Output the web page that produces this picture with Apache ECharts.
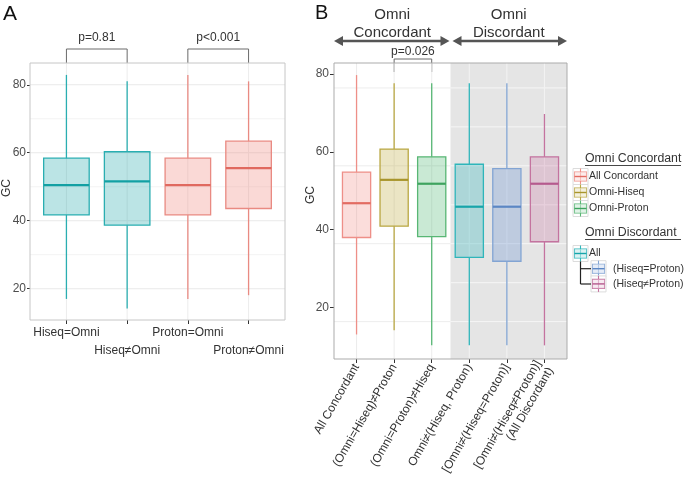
<!DOCTYPE html>
<html><head><meta charset="utf-8">
<script src="https://cdn.jsdelivr.net/npm/echarts@6/dist/echarts.min.js"></script>
<style>html,body{margin:0;padding:0;background:#fff}#c{width:685px;height:482px}</style>
</head><body><div id="c"></div>
<script>
// ---------- Panel A data ----------
const catsA = ['Hiseq=Omni', 'Hiseq≠Omni', 'Proton=Omni', 'Proton≠Omni'];
const lowA  = [17.0, 14.2, 17.0, 18.1];
const q1A   = [41.7, 38.7, 41.7, 43.6];
const medA  = [50.5, 51.6, 50.5, 55.5];
const q3A   = [58.4, 60.3, 58.4, 63.4];
const highA = [82.9, 81.0, 82.9, 81.0];
const ticksA = [20, 40, 60, 80];
const minorA = [30, 50, 70];
const bracketsA = [{from: 1, to: 2, label: 'p=0.81'}, {from: 3, to: 4, label: 'p<0.001'}];

// ---------- Panel B data ----------
const catsB = ['All Concordant', '(Omni=Hiseq)≠Proton', '(Omni=Proton)≠Hiseq',
  'Omni≠(Hiseq, Proton)', '[Omni≠(Hiseq=Proton)]', '[Omni≠(Hiseq≠Proton)]\n(All Discordant)'];
const lowB  = [13.1, 14.2, 10.3, 10.3, 10.3, 10.3];
const q1B   = [38.0, 40.9, 38.2, 32.9, 31.9, 36.9];
const medB  = [46.8, 52.8, 51.8, 45.9, 45.9, 51.8];
const q3B   = [54.8, 60.7, 58.7, 56.8, 55.7, 58.7];
const highB = [79.7, 77.6, 77.6, 77.6, 77.6, 69.7];
const ticksB = [20, 40, 60, 80];
const nConcordant = 3;
const gridWhiteB = [76.4, 56.4, 36.4, 16.4];
const gridGrayB = [76.4, 66.4, 56.4, 46.4, 36.4, 26.4, 16.4];
const bracketsB = [{from: 2, to: 3, label: 'p=0.026'}];
const legendConc = ['All Concordant', 'Omni-Hiseq', 'Omni-Proton'];
const legendDisc = ['All', '(Hiseq=Proton)', '(Hiseq≠Proton)'];

// ---------- styles ----------
const FONT = '"Liberation Sans", Arial, Helvetica, sans-serif';
const teal = {line: '#2aaeb1', fill: 'rgba(30,165,168,0.30)', med: '#12a0a3'};
const salmon = {line: '#e98a82', fill: 'rgba(238,130,120,0.30)', med: '#e0695f'};
const stylesA = [teal, teal, salmon, salmon];
const stylesB = [
  {line: '#ee8f88', fill: 'rgba(240,125,115,0.26)', med: '#e26c62'},
  {line: '#b9a742', fill: 'rgba(190,170,60,0.30)', med: '#a8952c'},
  {line: '#58b674', fill: 'rgba(60,175,100,0.28)', med: '#3fa35f'},
  {line: '#2fb5ba', fill: 'rgba(40,180,185,0.30)', med: '#17a5aa'},
  {line: '#82a4d3', fill: 'rgba(110,150,210,0.32)', med: '#5c87c4'},
  {line: '#c4739f', fill: 'rgba(200,110,160,0.26)', med: '#b55a8e'}
];

const xRangeA = [0.4, catsA.length + 0.6], yRangeA = [10.8, 86.4];
const xRangeB = [0.4, catsB.length + 0.6], yRangeB = [6.8, 82.8];

const boxData = (lo, q1, md, q3, hi) => lo.map((_, i) => [i + 1, lo[i], q1[i], md[i], q3[i], hi[i]]);

function boxRender(styles) {
  return function (params, api) {
    const x = api.value(0);
    const lo = api.coord([x, api.value(1)]);
    const q1 = api.coord([x, api.value(2)]);
    const md = api.coord([x, api.value(3)]);
    const q3 = api.coord([x, api.value(4)]);
    const hi = api.coord([x, api.value(5)]);
    const w = api.size([0.75, 0])[0];
    const s = styles[params.dataIndex];
    return {type: 'group', children: [
      {type: 'line', shape: {x1: lo[0], y1: q1[1], x2: lo[0], y2: lo[1]}, style: {stroke: s.line, lineWidth: 1.3}},
      {type: 'line', shape: {x1: hi[0], y1: q3[1], x2: hi[0], y2: hi[1]}, style: {stroke: s.line, lineWidth: 1.3}},
      {type: 'rect', shape: {x: q3[0] - w / 2, y: q3[1], width: w, height: q1[1] - q3[1]}, style: {fill: s.fill, stroke: s.line, lineWidth: 1.3}},
      {type: 'line', shape: {x1: md[0] - w / 2, y1: md[1], x2: md[0] + w / 2, y2: md[1]}, style: {stroke: s.med, lineWidth: 2.2}}
    ]};
  };
}
function hlineSeries(gi, data, color, z) {
  return {type: 'custom', xAxisIndex: gi, yAxisIndex: gi, silent: true, z: z, encode: {x: [0, 1], y: 2},
    data: data,
    renderItem: (p, api) => {
      const a = api.coord([api.value(0), api.value(2)]);
      const b = api.coord([api.value(1), api.value(2)]);
      return {type: 'line', shape: {x1: a[0], y1: a[1], x2: b[0], y2: b[1]}, style: {stroke: color, lineWidth: 1}};
    }};
}
function vlineSeries(gi, data, color, z) {
  return {type: 'custom', xAxisIndex: gi, yAxisIndex: gi, silent: true, z: z, encode: {x: 0, y: [1, 2]},
    data: data,
    renderItem: (p, api) => {
      const a = api.coord([api.value(0), api.value(1)]);
      const b = api.coord([api.value(0), api.value(2)]);
      return {type: 'line', shape: {x1: a[0], y1: a[1], x2: b[0], y2: b[1]}, style: {stroke: color, lineWidth: 1}};
    }};
}
function rectSeries(gi, data, style, z) {
  return {type: 'custom', xAxisIndex: gi, yAxisIndex: gi, silent: true, z: z, encode: {x: [0, 1], y: [2, 3]},
    data: data,
    renderItem: (p, api) => {
      const a = api.coord([api.value(0), api.value(3)]);
      const b = api.coord([api.value(1), api.value(2)]);
      return {type: 'rect', shape: {x: a[0], y: a[1], width: b[0] - a[0], height: b[1] - a[1]}, style: style};
    }};
}

const idxA = catsA.map((_, i) => i + 1);
const idxA1 = idxA.filter(i => i % 2 === 1);   // first label row
const idxA2 = idxA.filter(i => i % 2 === 0);   // second label row
const idxB = catsB.map((_, i) => i + 1);

const labelA = {margin: 7, fontSize: 12, color: '#333', fontFamily: FONT,
  showMinLabel: true, showMaxLabel: true, hideOverlap: false, formatter: v => catsA[Math.round(v) - 1]};

const option = {
  backgroundColor: '#ffffff',
  animation: false,
  grid: [
    {left: 30, top: 63, width: 255, height: 257, show: false},
    {left: 334, top: 63, width: 233, height: 296, show: false}
  ],
  xAxis: [
    {type: 'value', gridIndex: 0, min: xRangeA[0], max: xRangeA[1], position: 'bottom',
      axisLine: {show: false}, splitLine: {show: false},
      axisTick: {show: true, customValues: idxA, length: 4, lineStyle: {color: '#333'}},
      axisLabel: Object.assign({customValues: idxA1}, labelA)},
    {type: 'value', gridIndex: 1, min: xRangeB[0], max: xRangeB[1],
      axisLine: {show: false}, splitLine: {show: false},
      axisTick: {show: true, customValues: idxB, length: 4, lineStyle: {color: '#333'}},
      axisLabel: {customValues: idxB, margin: 6, rotate: 60, fontSize: 12, lineHeight: 14, color: '#333', fontFamily: FONT,
        showMinLabel: true, showMaxLabel: true, hideOverlap: false,
        formatter: v => catsB[Math.round(v) - 1]}},
    {type: 'value', gridIndex: 0, min: xRangeA[0], max: xRangeA[1], position: 'bottom', offset: 18,
      axisLine: {show: false}, splitLine: {show: false},
      axisTick: {show: false, customValues: idxA2},
      axisLabel: Object.assign({customValues: idxA2}, labelA)}
  ],
  yAxis: [
    {type: 'value', gridIndex: 0, min: yRangeA[0], max: yRangeA[1],
      axisLine: {show: false}, splitLine: {show: false},
      axisTick: {show: true, customValues: ticksA, length: 3, lineStyle: {color: '#333'}},
      axisLabel: {customValues: ticksA, margin: 4, fontSize: 12, color: '#4d4d4d', fontFamily: FONT,
        showMinLabel: true, showMaxLabel: true}},
    {type: 'value', gridIndex: 1, min: yRangeB[0], max: yRangeB[1],
      axisLine: {show: false}, splitLine: {show: false},
      axisTick: {show: true, customValues: ticksB, length: 4, lineStyle: {color: '#333'}},
      axisLabel: {customValues: ticksB, margin: 5, fontSize: 12, color: '#4d4d4d', fontFamily: FONT,
        showMinLabel: true, showMaxLabel: true}}
  ],
  series: [
    // panel A
    hlineSeries(0, minorA.map(v => [xRangeA[0], xRangeA[1], v]), '#f3f3f3', 1),
    hlineSeries(0, ticksA.map(v => [xRangeA[0], xRangeA[1], v]), '#e9e9e9', 1),
    vlineSeries(0, idxA.map(x => [x, yRangeA[0], yRangeA[1]]), '#ececec', 1),
    {type: 'custom', xAxisIndex: 0, yAxisIndex: 0, silent: true, z: 3, encode: {x: 0, y: [1, 2, 3, 4, 5]},
      data: boxData(lowA, q1A, medA, q3A, highA), renderItem: boxRender(stylesA)},
    rectSeries(0, [[xRangeA[0], xRangeA[1], yRangeA[0], yRangeA[1]]], {fill: 'none', stroke: '#c6c6c6', lineWidth: 1}, 4),
    // panel B
    rectSeries(1, [[nConcordant + 0.5, xRangeB[1], yRangeB[0], yRangeB[1]]], {fill: '#e5e5e5'}, 0),
    hlineSeries(1, gridWhiteB.map(v => [xRangeB[0], nConcordant + 0.5, v]), '#ededed', 1),
    hlineSeries(1, gridGrayB.map(v => [nConcordant + 0.5, xRangeB[1], v]), '#f6f6f6', 1),
    vlineSeries(1, idxB.filter(x => x <= nConcordant).map(x => [x, yRangeB[0], yRangeB[1]]), '#ececec', 1),
    vlineSeries(1, idxB.filter(x => x > nConcordant).map(x => [x, yRangeB[0], yRangeB[1]]), '#f3f3f3', 1),
    {type: 'custom', xAxisIndex: 1, yAxisIndex: 1, silent: true, z: 3, encode: {x: 0, y: [1, 2, 3, 4, 5]},
      data: boxData(lowB, q1B, medB, q3B, highB), renderItem: boxRender(stylesB)},
    rectSeries(1, [[xRangeB[0], xRangeB[1], yRangeB[0], yRangeB[1]]], {fill: 'none', stroke: '#ababab', lineWidth: 1}, 4)
  ]
};

const chart = echarts.init(document.getElementById('c'));
chart.setOption(option);

// ---------- annotations ----------
function T(x, y, text, o) {
  const st = Object.assign({text: text, fill: '#333', font: '12px ' + FONT,
    align: 'center', verticalAlign: 'middle', textAlign: 'center', textVerticalAlign: 'middle'}, o || {});
  return {type: 'text', x: x, y: y, silent: true, style: st};
}
function L(x1, y1, x2, y2, color, w) {
  return {type: 'line', silent: true, shape: {x1: x1, y1: y1, x2: x2, y2: y2}, style: {stroke: color, lineWidth: w}};
}
const P = (gi, x, y) => chart.convertToPixel({xAxisIndex: gi, yAxisIndex: gi}, [x, y]);
const g = [];

// panel letters
g.push(T(3, 14, 'A', {font: '21px ' + FONT, fill: '#111', align: 'left', textAlign: 'left'}));
g.push(T(315, 13, 'B', {font: '20px ' + FONT, fill: '#111', align: 'left', textAlign: 'left'}));
// y names
g.push(Object.assign(T(7, 188, 'GC', {fill: '#333'}), {rotation: Math.PI / 2}));
g.push(Object.assign(T(311, 195, 'GC', {fill: '#333'}), {rotation: Math.PI / 2}));

// brackets
function bracket(gi, b, top, legBottom, labelY) {
  const a = P(gi, b.from, 0)[0], c = P(gi, b.to, 0)[0];
  g.push({type: 'polyline', silent: true, shape: {points: [[a, legBottom], [a, top], [c, top], [c, legBottom]]},
    style: {stroke: '#6a6a6a', lineWidth: 1, fill: 'none'}});
  g.push(T((a + c) / 2, labelY, b.label, {fill: '#333'}));
}
const topA = P(0, 1, yRangeA[1])[1];
bracketsA.forEach(b => bracket(0, b, topA - 14, topA, topA - 25));
const topB = P(1, 1, yRangeB[1])[1];
bracketsB.forEach(b => bracket(1, b, topB - 4, topB + 9, topB - 11));

// group arrows & headers
const xL = P(1, xRangeB[0], 0)[0], xM = P(1, nConcordant + 0.5, 0)[0], xR = P(1, xRangeB[1], 0)[0];
const ay = 41, ac = '#555';
function arrow(x1, x2) {
  g.push(L(x1 + 6, ay, x2 - 6, ay, ac, 2.6));
  g.push({type: 'polygon', silent: true, shape: {points: [[x1, ay], [x1 + 9, ay - 5], [x1 + 9, ay + 5]]}, style: {fill: ac}});
  g.push({type: 'polygon', silent: true, shape: {points: [[x2, ay], [x2 - 9, ay - 5], [x2 - 9, ay + 5]]}, style: {fill: ac}});
}
arrow(xL, xM - 1);
arrow(xM + 2, xR);
g.push(T((xL + xM) / 2, 24, 'Omni\nConcordant', {font: '15px ' + FONT, lineHeight: 18, fill: '#333'}));
g.push(T((xM + xR) / 2, 24, 'Omni\nDiscordant', {font: '15px ' + FONT, lineHeight: 18, fill: '#333'}));

// legend
function key(x, y, s) {
  g.push({type: 'rect', silent: true, shape: {x: x - 1, y: y - 8, width: 15, height: 16}, style: {fill: '#fff', stroke: '#dcdcdc', lineWidth: 1}});
  g.push(L(x + 6.5, y - 8, x + 6.5, y + 8, s.line, 1.1));
  g.push({type: 'rect', silent: true, shape: {x: x + 0.5, y: y - 4.5, width: 12, height: 9}, style: {fill: s.fill, stroke: s.line, lineWidth: 1.1}});
  g.push({type: 'rect', silent: true, shape: {x: x + 0.5, y: y - 4.5, width: 12, height: 9}, style: {fill: 'rgba(255,255,255,0.45)'}});
  g.push(L(x + 0.5, y, x + 12.5, y, s.med, 1.4));
}
function title(x, y, text) {
  g.push(T(x, y, text, {font: '12.3px ' + FONT, align: 'left', textAlign: 'left', fill: '#333'}));
  g.push(L(x, y + 6.5, x + 96, y + 6.5, '#333', 0.9));
}
const lf = '10.5px ' + FONT;
title(585, 159, 'Omni Concordant');
legendConc.forEach((t, i) => {
  const y = 176.5 + i * 16;
  key(574, y, stylesB[i]);
  g.push(T(589, y, t, {font: lf, align: 'left', textAlign: 'left', fill: '#333'}));
});
title(585, 233, 'Omni Discordant');
legendDisc.forEach((t, i) => {
  const y = 253.5 + i * 15.2;
  const x = i === 0 ? 574 : 592;
  key(x, y, stylesB[nConcordant + i]);
  g.push(T(i === 0 ? 589 : 613, y, t, {font: lf, align: 'left', textAlign: 'left', fill: '#333'}));
});
g.push(L(580.5, 261.5, 580.5, 284, '#222', 1.2));
g.push(L(580.5, 268.7, 591, 268.7, '#222', 1.2));
g.push(L(580.5, 284, 591, 284, '#222', 1.2));

chart.setOption({graphic: {elements: g}});
</script>
</body></html>
